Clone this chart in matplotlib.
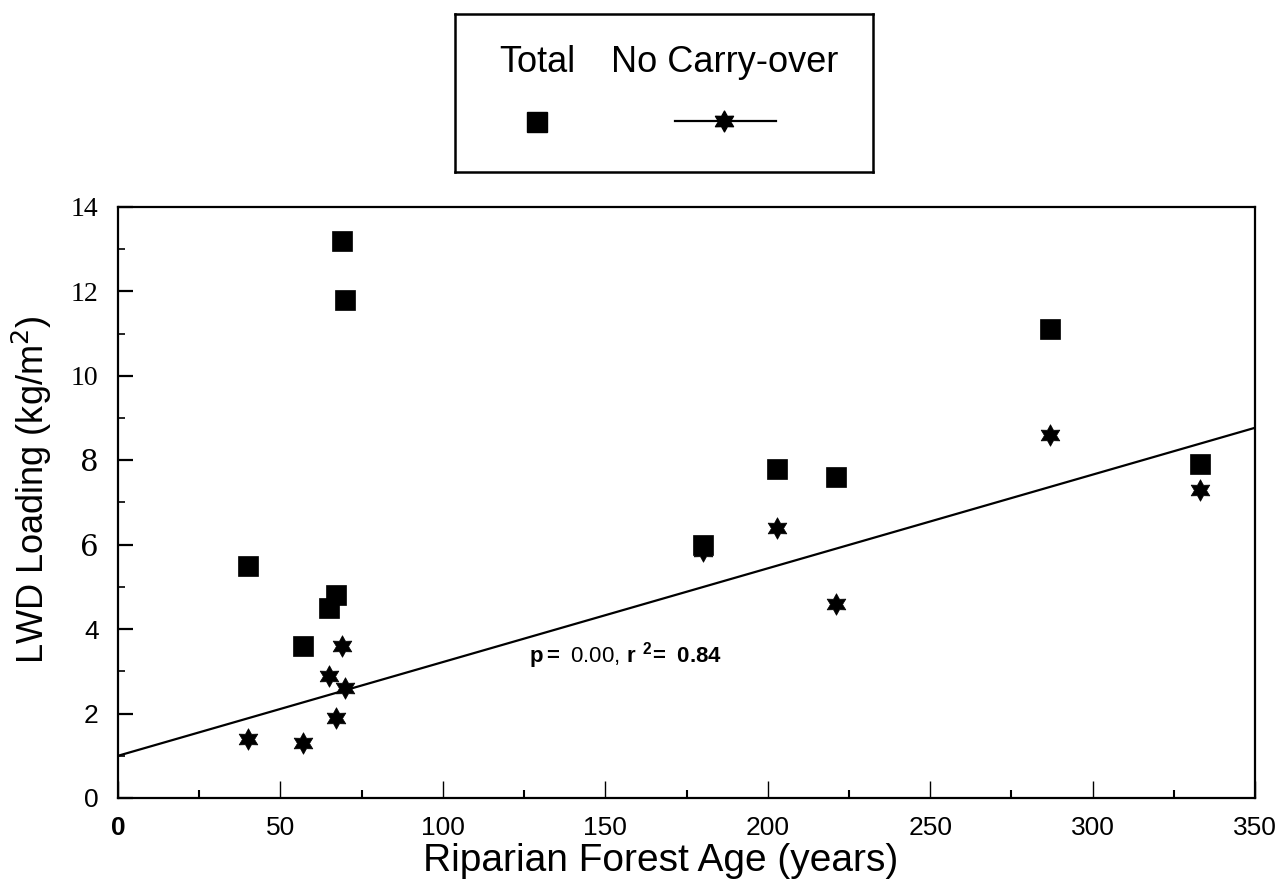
import numpy as np
import matplotlib
matplotlib.use("Agg")
import matplotlib.pyplot as plt
from matplotlib.path import Path

plt.rcParams['font.family'] = ['Liberation Sans', 'DejaVu Sans']
plt.rcParams['mathtext.fontset'] = 'custom'
plt.rcParams['mathtext.rm'] = 'Liberation Sans'
plt.rcParams['mathtext.bf'] = 'Liberation Sans:bold'

### DATA

# Total LWD loading
total_age = [40, 57, 65, 67, 69, 70, 180, 203, 221, 287, 333]
total_lwd = [5.5, 3.6, 4.5, 4.8, 13.2, 11.8, 6.0, 7.8, 7.6, 11.1, 7.9]

# No carry-over LWD loading
nco_age = [40, 57, 65, 67, 69, 70, 180, 203, 221, 287, 333]
nco_lwd = [1.4, 1.3, 2.9, 1.9, 3.6, 2.6, 5.85, 6.4, 4.6, 8.6, 7.3]

# regression line on the no carry-over series
fit_intercept = 1.0
fit_slope = 0.0222
fit_text = r'$\mathbf{p =}$ 0.00, $\mathbf{r}\ ^{\mathbf{2}}\!\mathbf{=\ 0.84}$'

x_ticks = [0, 50, 100, 150, 200, 250, 300, 350]
y_ticks = [0, 2, 4, 6, 8, 10, 12, 14]

# six pointed star like the original marker
star = Path.unit_regular_star(6, 0.56)

fig = plt.figure(figsize=(12.8, 8.93), dpi=100)
ax = fig.add_axes([0.0922, 0.1064, 0.8883, 0.6618])

ax.plot(total_age, total_lwd, linestyle='none', marker='s', markersize=14,
        color='black', markeredgewidth=0.5, zorder=3)
ax.plot(nco_age, nco_lwd, linestyle='none', marker=star, markersize=15.5,
        color='black', markeredgewidth=0.5, zorder=2)

xfit = np.array([0, 350])
ax.plot(xfit, fit_intercept + fit_slope * xfit, color='black', linewidth=1.6, zorder=1)

ax.text(126.5, 3.2, fit_text, fontsize=16, va='baseline', ha='left')

ax.set_xlim(0, 350)
ax.set_ylim(0, 14)

# ticks
ax.set_xticks(x_ticks)
ax.set_xticks([25, 75, 125, 175, 225, 275, 325], minor=True)
ax.set_yticks(y_ticks)
ax.set_yticks([1, 3, 5, 7, 9, 11, 13], minor=True)
ax.tick_params(axis='x', which='major', direction='in', length=12, width=1, pad=13)
ax.tick_params(axis='x', which='minor', direction='in', length=6, width=1.5)
ax.tick_params(axis='y', which='major', direction='in', length=11, width=1.6, pad=14)
ax.tick_params(axis='y', which='minor', direction='in', length=5, width=1.2)

ax.set_xticklabels([str(t) for t in x_ticks], fontsize=19)
ax.get_xticklabels()[0].set_fontweight('bold')

ax.set_yticklabels([str(t) for t in y_ticks])
for lab, t in zip(ax.get_yticklabels(), y_ticks):
    if t <= 4:
        lab.set_family('Liberation Sans')
        lab.set_fontsize(19)
    elif t <= 8:
        lab.set_family('DejaVu Serif')
        lab.set_fontsize(21)
    else:
        lab.set_family('Liberation Serif')
        lab.set_fontsize(20)

for sp in ax.spines.values():
    sp.set_linewidth(1.6)

ax.set_xlabel('Riparian Forest Age (years)', fontsize=28)
ax.xaxis.set_label_coords((661 - 118) / 1137, -(861 - 798) / 591)
ax.xaxis.label.set_va('center')
ax.set_ylabel(r'LWD Loading (kg/m$^{\mathsf{2}}$)', fontsize=26)
ax.yaxis.set_label_coords((32 - 118) / 1137, (798 - 490) / 591)
ax.yaxis.label.set_va('center')

# legend drawn as a framed box with labels above keys
lg = fig.add_axes([455 / 1280, 1 - 172 / 893, 418 / 1280, 158 / 893])
lg.set_xlim(0, 418)
lg.set_ylim(158, 0)
lg.set_xticks([])
lg.set_yticks([])
for sp in lg.spines.values():
    sp.set_linewidth(1.8)
lg.text(82, 48, 'Total', fontsize=26, ha='center', va='center')
lg.text(270, 48, 'No Carry-over', fontsize=26, ha='center', va='center')
lg.plot([82], [108], linestyle='none', marker='s', markersize=15, color='black')
lg.plot([220, 321], [107, 107], color='black', linewidth=1.6)
lg.plot([269], [107], linestyle='none', marker=star, markersize=15, color='black')

fig.savefig('out.png', dpi=100)
